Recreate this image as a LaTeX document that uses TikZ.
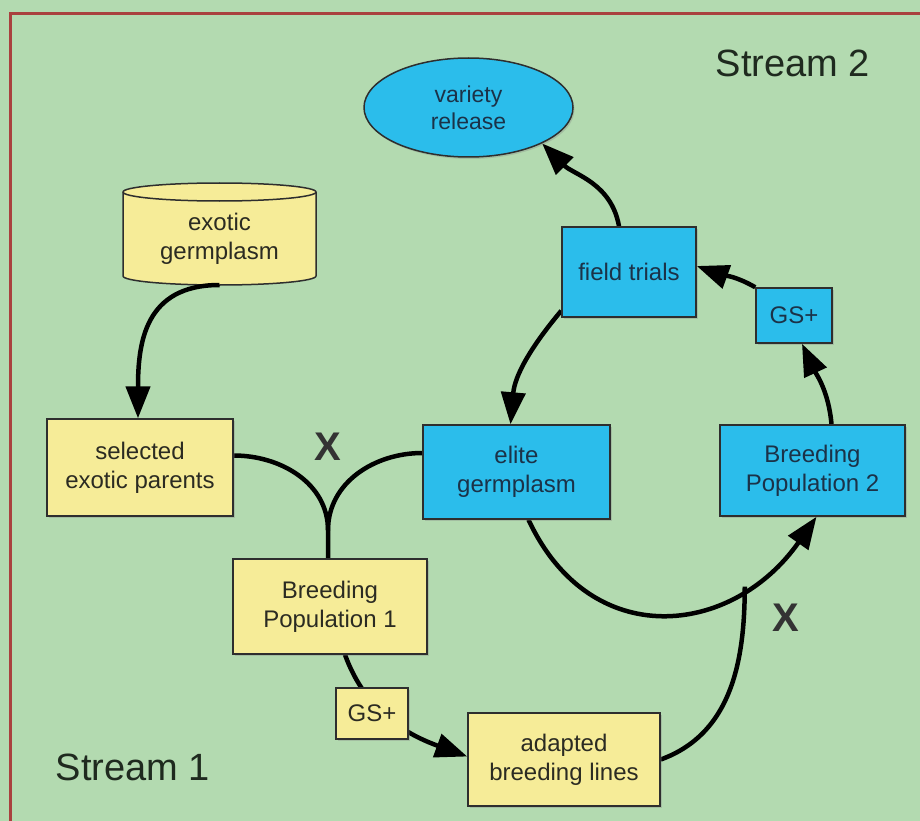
\documentclass[tikz,border=0pt]{standalone}
\usepackage{fontspec}
\setmainfont{Liberation Sans}
\usetikzlibrary{arrows.meta,calc,shapes.geometric,shadows}
\definecolor{bgc}{HTML}{B3DAB0}
\definecolor{yel}{HTML}{F6EC98}
\definecolor{blu}{HTML}{2BBDEB}
\definecolor{framec}{HTML}{A9413E}
\definecolor{bd}{HTML}{2E2E2E}
\definecolor{ytext}{HTML}{2B2B22}
\definecolor{btext}{HTML}{1B3248}
\definecolor{stext}{HTML}{1F2A1F}
\pgfdeclarelayer{back}
\pgfdeclarelayer{conns}
\pgfsetlayers{back,conns,main}
\begin{document}
\begin{tikzpicture}[x=1pt,y=1pt,
  ybox/.style={rectangle, draw=bd, line width=1.5pt, fill=yel, text=ytext, align=center,
    inner sep=2pt, font=\fontsize{24}{29}\selectfont,
    drop shadow={shadow xshift=1.5pt, shadow yshift=-2pt, opacity=0.3}},
  bbox/.style={ybox, fill=blu, text=btext},
  conn/.style={line width=4.5pt, draw=black},
  arr/.style={conn, -{Triangle[length=32pt,width=24pt]}},
  bigx/.style={font=\fontsize{40}{48}\selectfont\bfseries, text=black!80},
  stream/.style={font=\fontsize{38}{44}\selectfont, text=stext}
]
\useasboundingbox (0,0) rectangle (920,-821);
\begin{pgfonlayer}{back}
  \fill[bgc] (0,0) rectangle (920,-821);
  \draw[framec, line width=3pt] (920,-14) -- (10.5,-14) -- (10.5,-821);
\end{pgfonlayer}

% nodes
\node[ybox, minimum width=186pt, minimum height=97pt] (sel) at (140,-467.5) {selected\\exotic parents};
\node[bbox, minimum width=187pt, minimum height=94pt] (elite) at (516.5,-472) {elite\\germplasm};
\node[bbox, minimum width=185pt, minimum height=91pt] (bp2) at (812.5,-470.5) {Breeding\\Population 2};
\node[ybox, minimum width=194pt, minimum height=95pt] (bp1) at (330,-606.5) {Breeding\\Population 1};
\node[ybox, minimum width=72pt, minimum height=51pt] (gsa) at (372,-713.5) {GS+};
\node[ybox, minimum width=192pt, minimum height=93pt] (abl) at (564,-759.5) {adapted\\breeding lines};
\node[bbox, minimum width=134pt, minimum height=90pt] (ft) at (629,-272) {field trials};
\node[bbox, minimum width=76pt, minimum height=55pt] (gsb) at (794,-315.5) {GS+};
\node[bbox, ellipse, minimum width=209pt, minimum height=99pt, inner sep=0pt,
  font=\fontsize{23}{27}\selectfont] (vr) at (468.5,-107.5) {variety\\release};
\node[rectangle, minimum width=193pt, minimum height=93pt, inner sep=0pt, outer sep=0pt,
  align=center, text=ytext, font=\fontsize{24}{29}\selectfont] (cyl) at (219.5,-238.5) {exotic\\germplasm};

\node[stream] (s2) at (793,-63) {Stream 2};
\node[stream] (s1) at (133,-767) {Stream 1};
\node[bigx] (x1) at (328,-447) {X};
\node[bigx] (x2) at (786,-618) {X};

\begin{pgfonlayer}{conns}
  % cylinder shape
  \path[fill=yel, draw=bd, line width=1.5pt]
    (cyl.north west) -- ($(cyl.south west)+(0,9)$)
    arc[start angle=180, end angle=360, x radius=96.5, y radius=9]
    -- (cyl.north east)
    arc[start angle=0, end angle=180, x radius=96.5, y radius=9]
    -- cycle;
  \draw[bd, line width=1.5pt] (cyl.north west)
    arc[start angle=180, end angle=360, x radius=96.5, y radius=9];

  % connectors
  \draw[arr] (cyl.south) .. controls +(-75,0) and +(0,75) .. ([xshift=-2pt]sel.north);

  \coordinate (m) at ($(bp1.north)+(-2,28)$);
  \draw[conn] ([yshift=12pt]sel.east) to[out=0,in=90] (m) -- (m |- bp1.north);
  \draw[conn] ([yshift=19pt]elite.west) to[out=180,in=90] (m);

  \draw[arr] ([xshift=15pt]bp1.south) to[out=-70,in=160] ([yshift=3pt]abl.west);

  \draw[arr] ([xshift=12pt]elite.south) to[out=-65,in=-125,looseness=1.3]
    node[coordinate,pos=0.75] (j) {} ([xshift=4pt]bp2.south);
  \draw[conn] (abl.east) to[out=20,in=-90] (j);

  \draw[arr] ([xshift=-10pt]ft.north) to[out=100,in=-45] (vr.-26);
  \draw[arr] ([yshift=7pt]ft.south west) to[out=-130,in=85] ([xshift=-6pt]elite.north);
  \draw[arr] ([xshift=19pt]bp2.north) to[out=95,in=-65] ([xshift=8pt]gsb.south);
  \draw[arr] (gsb.north west) to[out=150,in=-20] ([yshift=6pt]ft.east);
\end{pgfonlayer}
\end{tikzpicture}
\end{document}
